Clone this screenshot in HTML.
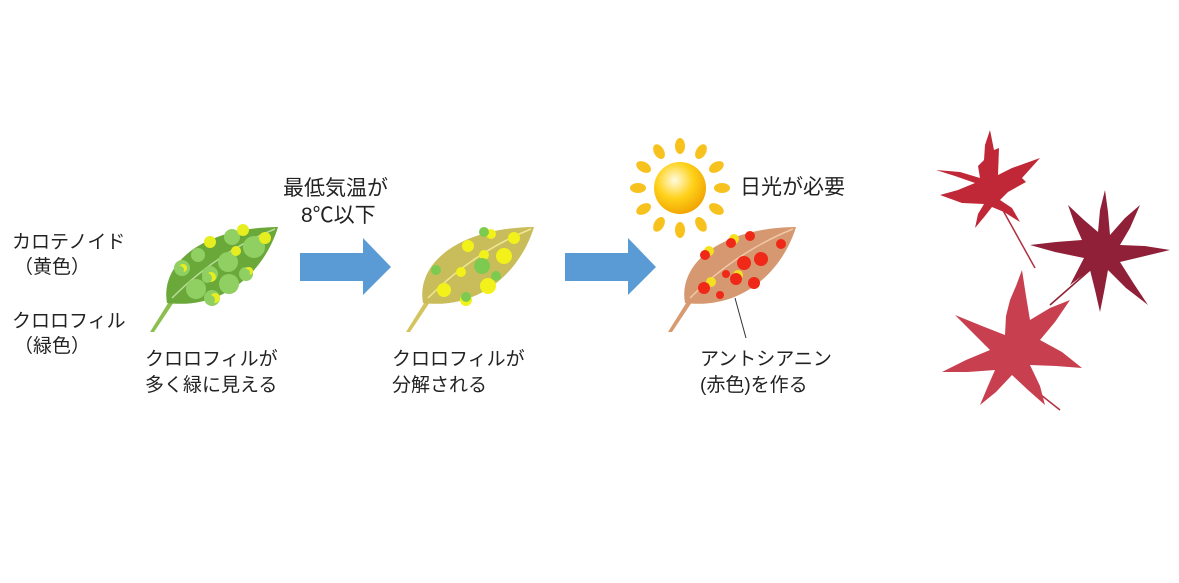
<!DOCTYPE html>
<html><head><meta charset="utf-8"><style>
body{margin:0;background:#fff;}
svg{display:block}
text{font-family:"Liberation Sans","Noto Sans CJK JP",sans-serif;fill:#222;}
</style></head><body>
<svg width="1179" height="583" viewBox="0 0 1179 583" xmlns="http://www.w3.org/2000/svg">
<defs>
<radialGradient id="sun" cx="0.4" cy="0.35" r="0.7"><stop offset="0" stop-color="#fffbe0"/><stop offset="0.5" stop-color="#ffd21a"/><stop offset="1" stop-color="#f0a000"/></radialGradient>
</defs>
<!-- left labels -->
<text x="12" y="248" font-size="19">カロテノイド</text>
<text x="14" y="273" font-size="19">（黄色）</text>
<text x="12" y="327" font-size="19">クロロフィル</text>
<text x="14" y="352" font-size="19">（緑色）</text>

<!-- leaf 1 -->
<g>
<path d="M170,300 L150,332 L154,332 L174,302Z" fill="#8cbf50"/>
<path d="M167,303 C160,265 200,228 278,227 C265,270 225,310 167,303Z" fill="#6aa83a"/>
<path d="M172,298 C200,270 235,245 275,229" stroke="#b8dc98" stroke-width="1.5" fill="none"/>
<g fill="#90d062">
<circle cx="182" cy="268" r="8"/><circle cx="196" cy="289" r="10"/><circle cx="210" cy="274" r="8"/><circle cx="212" cy="298" r="8"/>
<circle cx="229" cy="284" r="10"/><circle cx="228" cy="262" r="10"/><circle cx="254" cy="247" r="11"/><circle cx="232" cy="237" r="8"/>
<circle cx="198" cy="255" r="7"/><circle cx="246" cy="274" r="7"/>
</g>
<g fill="#e6ee20">
<circle cx="243" cy="230" r="6"/><circle cx="210" cy="242" r="6"/><circle cx="265" cy="238" r="6"/><circle cx="236" cy="251" r="5"/>
<circle cx="183" cy="268" r="4"/><circle cx="211" cy="277" r="5"/><circle cx="215" cy="298" r="5"/><circle cx="249" cy="271" r="4"/>
</g>
<g fill="#90d062"><circle cx="207" cy="278" r="5"/><circle cx="210" cy="300" r="5"/><circle cx="180" cy="270" r="4"/><circle cx="246" cy="273" r="4"/></g>
</g>
<text x="145" y="365" font-size="19">クロロフィルが</text>
<text x="145" y="391" font-size="19">多く緑に見える</text>

<!-- title -->
<text x="283" y="195" font-size="21">最低気温が</text>
<text x="301" y="222" font-size="21">8℃以下</text>

<!-- arrow 1 -->
<path d="M300,253 L363,253 L363,238 L391,267 L363,295 L363,281 L300,281Z" fill="#5b9bd5"/>

<!-- leaf 2 -->
<g transform="translate(256,0)">
<path d="M170,300 L150,332 L154,332 L174,302Z" fill="#d4c460"/>
<path d="M167,303 C160,265 200,228 278,227 C265,270 225,310 167,303Z" fill="#c9bc5a"/>
<path d="M172,298 C200,270 235,245 275,229" stroke="#f0e890" stroke-width="1.5" fill="none"/>
<g fill="#f2f21a">
<circle cx="188" cy="290" r="7"/><circle cx="210" cy="300" r="6"/><circle cx="232" cy="286" r="8"/><circle cx="248" cy="256" r="8"/>
<circle cx="258" cy="238" r="6"/><circle cx="235" cy="234" r="5"/><circle cx="212" cy="246" r="6"/><circle cx="228" cy="255" r="5"/><circle cx="205" cy="272" r="5"/>
</g>
<g fill="#7ccb50">
<circle cx="180" cy="270" r="5"/><circle cx="226" cy="266" r="8"/><circle cx="240" cy="276" r="5"/><circle cx="210" cy="297" r="5"/><circle cx="228" cy="232" r="5"/>
</g>
</g>
<text x="392" y="365" font-size="19">クロロフィルが</text>
<text x="392" y="391" font-size="19">分解される</text>

<!-- arrow 2 -->
<path d="M565,253 L628,253 L628,238 L656,267 L628,295 L628,281 L565,281Z" fill="#5b9bd5"/>

<!-- sun -->
<g fill="#f7c21e">
<g transform="translate(680,188)">
<ellipse cx="0" cy="-42" rx="5" ry="8"/>
<ellipse cx="0" cy="-42" rx="5" ry="8" transform="rotate(30)"/>
<ellipse cx="0" cy="-42" rx="5" ry="8" transform="rotate(60)"/>
<ellipse cx="0" cy="-42" rx="5" ry="8" transform="rotate(90)"/>
<ellipse cx="0" cy="-42" rx="5" ry="8" transform="rotate(120)"/>
<ellipse cx="0" cy="-42" rx="5" ry="8" transform="rotate(150)"/>
<ellipse cx="0" cy="-42" rx="5" ry="8" transform="rotate(180)"/>
<ellipse cx="0" cy="-42" rx="5" ry="8" transform="rotate(210)"/>
<ellipse cx="0" cy="-42" rx="5" ry="8" transform="rotate(240)"/>
<ellipse cx="0" cy="-42" rx="5" ry="8" transform="rotate(270)"/>
<ellipse cx="0" cy="-42" rx="5" ry="8" transform="rotate(300)"/>
<ellipse cx="0" cy="-42" rx="5" ry="8" transform="rotate(330)"/>
<circle cx="0" cy="0" r="26" fill="url(#sun)"/>
</g>
</g>
<text x="740" y="194" font-size="21">日光が必要</text>

<!-- leaf 3 -->
<g transform="translate(518,0)">
<path d="M170,300 L150,332 L154,332 L174,302Z" fill="#d89a70"/>
<path d="M167,303 C160,265 200,228 278,227 C265,270 225,310 167,303Z" fill="#d59870"/>
<path d="M172,298 C200,270 235,245 275,229" stroke="#f0c8a8" stroke-width="1.5" fill="none"/>
<g fill="#f5e020">
<circle cx="216" cy="239" r="5"/><circle cx="191" cy="251" r="5"/><circle cx="220" cy="275" r="5"/><circle cx="193" cy="282" r="5"/>
</g>
<g fill="#f02818">
<circle cx="213" cy="243" r="5"/><circle cx="232" cy="236" r="5"/><circle cx="263" cy="244" r="5"/><circle cx="187" cy="255" r="5"/>
<circle cx="226" cy="263" r="7"/><circle cx="243" cy="259" r="7"/><circle cx="208" cy="274" r="4"/><circle cx="236" cy="283" r="6"/>
<circle cx="218" cy="279" r="6"/><circle cx="186" cy="288" r="6"/><circle cx="202" cy="295" r="4"/>
</g>
</g>
<line x1="735" y1="298" x2="746" y2="338" stroke="#333" stroke-width="1"/>
<text x="700" y="365" font-size="19">アントシアニン</text>
<text x="700" y="391" font-size="19">(赤色)を作る</text>

<!-- maple leaves -->
<g>
<line x1="1000" y1="205" x2="1035" y2="268" stroke="#b03040" stroke-width="1.5"/>
<path d="M990,130 L994,150 L999,148 L998,175 L1012,168 L1040,158 L1022,178 L1026,182 L1008,192 L1000,200 L1012,208 L1020,222 L1004,212 L992,207 L985,216 L975,228 L978,214 L984,204 L962,203 L940,195 L958,190 L975,183 L955,176 L936,170 L960,172 L980,178 L978,166 L984,160 L985,145Z" fill="#c02838"/>
<line x1="1090" y1="270" x2="1050" y2="305" stroke="#8f1f35" stroke-width="1.5"/>
<path d="M1105,190 L1108,212 L1110,235 L1125,218 L1140,205 L1130,228 L1120,245 L1145,246 L1170,250 L1145,256 L1120,262 L1134,284 L1148,305 L1126,288 L1108,270 L1104,292 L1100,312 L1095,290 L1090,270 L1070,285 L1084,258 L1055,252 L1030,245 L1056,242 L1082,240 L1074,222 L1068,205 L1084,220 L1098,232 L1100,210Z" fill="#8f2038"/>
<line x1="1012" y1="372" x2="1060" y2="410" stroke="#b03040" stroke-width="1.5"/>
<path d="M1022,270 L1026,296 L1030,320 L1050,308 L1070,300 L1055,322 L1040,340 L1062,352 L1082,368 L1056,366 L1030,365 L1040,386 L1045,405 L1028,390 L1012,375 L996,392 L980,405 L988,386 L995,370 L968,372 L942,372 L966,360 L990,350 L972,332 L955,315 L982,326 L1005,335 L1006,316 L1010,300 L1016,286Z" fill="#c8404f"/>
</g>
</svg>
</body></html>
